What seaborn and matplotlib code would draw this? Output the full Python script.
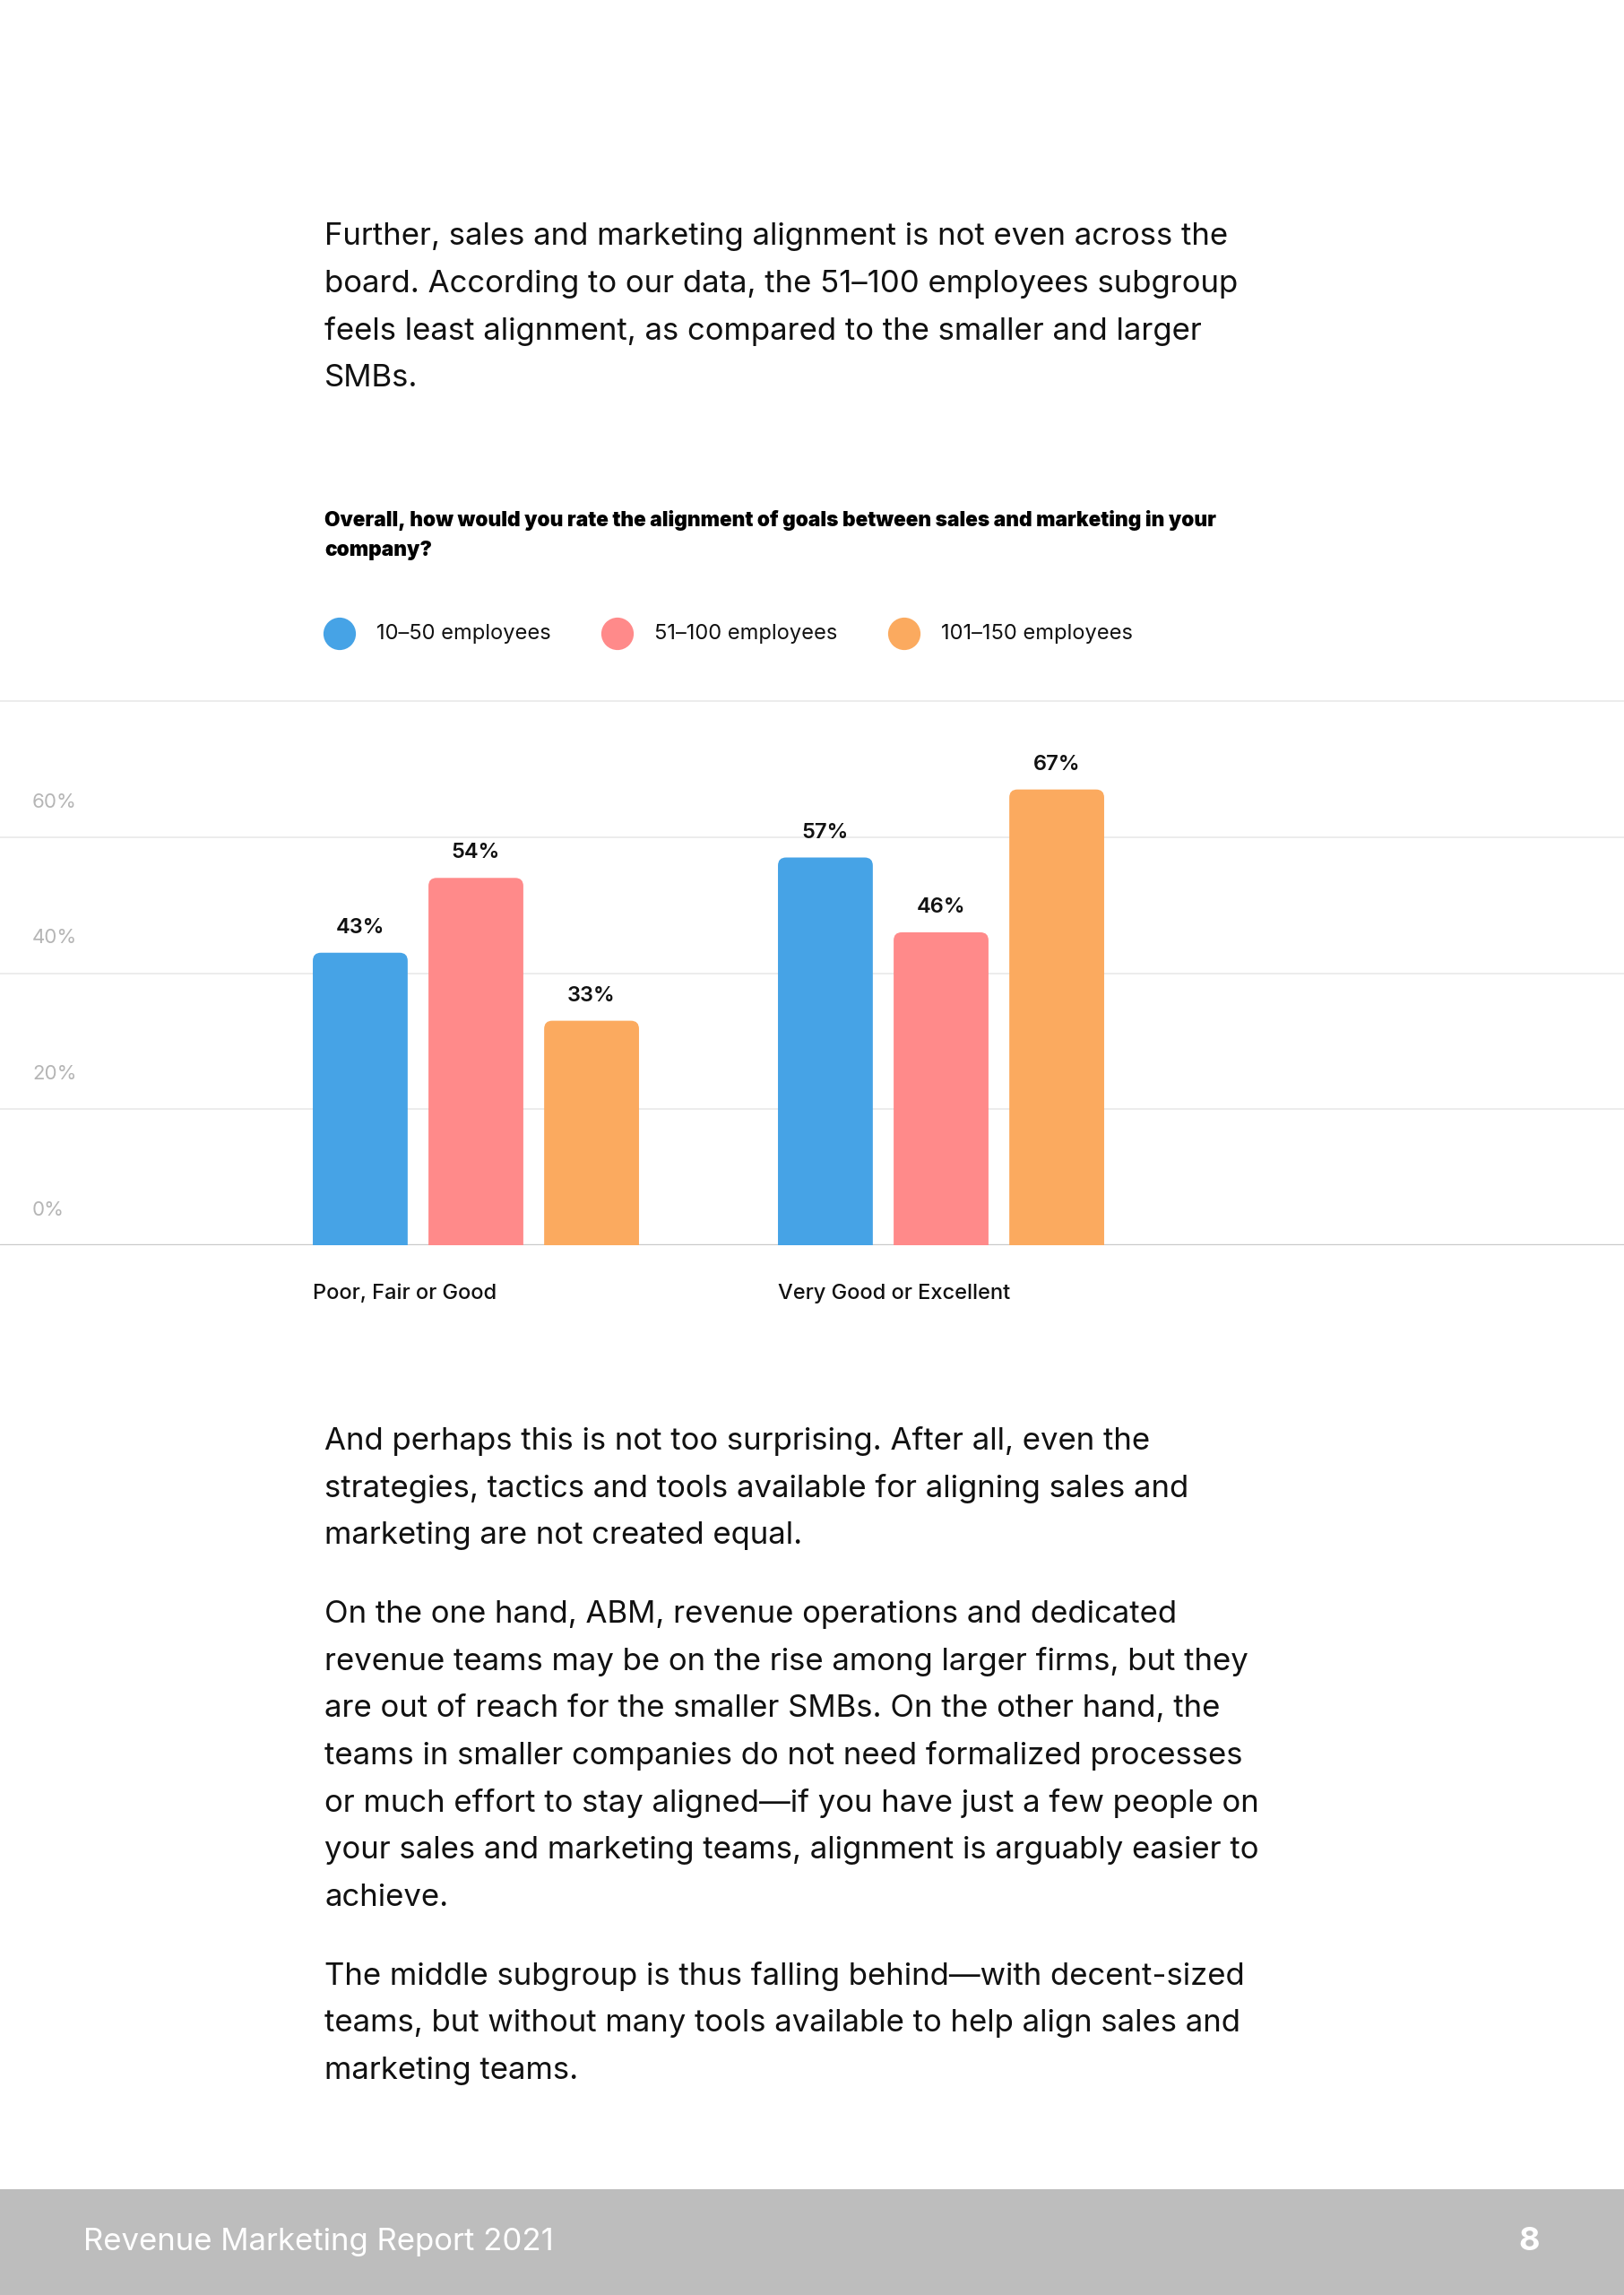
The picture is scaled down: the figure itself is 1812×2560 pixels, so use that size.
import pandas as pd
import seaborn as sns
import matplotlib.pyplot as plt
import matplotlib.transforms as mtrans
from matplotlib.patches import FancyBboxPatch, Rectangle

# %%
ratings = ["Poor, Fair or Good", "Very Good or Excellent"]
company_sizes = ["10–50 employees", "51–100 employees", "101–150 employees"]
share_10_50 = [43, 57]
share_51_100 = [54, 46]
share_101_150 = [33, 67]
yticks = [0, 20, 40, 60, 80]
ytick_labels = ["0%", "20%", "40%", "60%", ""]
colors = ["#46a3e6", "#ff8a8a", "#fbaa5f"]

title = ["Overall, how would you rate the alignment of goals between sales and marketing in your",
         "company?"]
intro = ["Further, sales and marketing alignment is not even across the",
         "board. According to our data, the 51–100 employees subgroup",
         "feels least alignment, as compared to the smaller and larger",
         "SMBs."]
outro = [
    ["And perhaps this is not too surprising. After all, even the",
     "strategies, tactics and tools available for aligning sales and",
     "marketing are not created equal."],
    ["On the one hand, ABM, revenue operations and dedicated",
     "revenue teams may be on the rise among larger firms, but they",
     "are out of reach for the smaller SMBs. On the other hand, the",
     "teams in smaller companies do not need formalized processes",
     "or much effort to stay aligned—if you have just a few people on",
     "your sales and marketing teams, alignment is arguably easier to",
     "achieve."],
    ["The middle subgroup is thus falling behind—with decent-sized",
     "teams, but without many tools available to help align sales and",
     "marketing teams."],
]
footer = "Revenue Marketing Report 2021"
page_no = "8"

# %%
df = pd.DataFrame({
    "rating": ratings * 3,
    "size": [s for s in company_sizes for _ in ratings],
    "share": share_10_50 + share_51_100 + share_101_150,
})

sns.set_theme(style="white")
plt.rcParams["font.family"] = ["Inter", "DejaVu Sans"]

W, H = 1812, 2560
fig = plt.figure(figsize=(W / 100, H / 100), dpi=100)
fig.patch.set_facecolor("white")

# chart area: 0% at y=1389 px, 80% at y=782 px
base_px, top_px = 1389, 782
px_per_pct = (base_px - top_px) / 80
ymax = 82
ax_top = base_px - ymax * px_per_pct
ax = fig.add_axes([0, (H - base_px) / H, 1, (base_px - ax_top) / H])
ax.set_facecolor("none")

sns.barplot(data=df, x="rating", y="share", hue="size", hue_order=company_sizes,
            palette=colors, width=0.746, gap=0.18, saturation=1, legend=False, ax=ax)

# group 1 centre at 531 px, group 2 at 1050 px
unit = 1050 - 531
ax.set_xlim(-531 / unit, (W - 531) / unit)
ax.set_ylim(0, ymax)
ax.set_yticks(yticks)
ax.set_yticklabels([])
ax.set_xticks([])
ax.tick_params(length=0)
ax.set_xlabel("")
ax.set_ylabel("")
sns.despine(ax=ax, left=True, bottom=True)
ax.grid(axis="y", color="#ebebeb", linewidth=1.3)
ax.set_axisbelow(True)
ax.axhline(0, color="#c8c8c8", linewidth=2.4, zorder=1)

# rounded bar tops
aspect = unit / px_per_pct
bars = list(ax.patches)
lefts = {}
for p in bars:
    x, w, h = p.get_x(), p.get_width(), p.get_height()
    p.set_visible(False)
    r = 9 / unit
    fb = FancyBboxPatch((x, -5), w, h + 5, boxstyle=f"round,pad=0,rounding_size={r}",
                        mutation_aspect=aspect, facecolor=p.get_facecolor(),
                        edgecolor="none", zorder=2)
    ax.add_patch(fb)
    ax.annotate(f"{h:.0f}%", (x + w / 2, h), xytext=(0, 20), textcoords="offset points",
                ha="center", va="center", fontsize=17, fontweight="semibold", color="#111111")
    g = round(x + w / 2)
    lefts[g] = min(lefts.get(g, 9), x)

for i, lab in enumerate(ratings):
    ax.text(lefts[i], -(1443 - base_px) / px_per_pct, lab, ha="left", va="center",
            fontsize=17, fontweight="medium", color="#111111", clip_on=False)

trans = mtrans.blended_transform_factory(ax.transAxes, ax.transData)
for v, lab in zip(yticks, ytick_labels):
    ax.text(36 / W, v + 39 / px_per_pct, lab, transform=trans, ha="left", va="center",
            fontsize=16, color="#b5b5b5")

# %% page text
page = fig.add_axes([0, 0, 1, 1], zorder=5)
page.set_xlim(0, W)
page.set_ylim(H, 0)
page.axis("off")
page.patch.set_alpha(0)

for i, line in enumerate(intro):
    page.text(362, 264 + i * 52.6, line, fontsize=25, color="#111111", va="center")

for i, line in enumerate(title):
    page.text(362, 580 + i * 34, line, fontsize=16.3, fontweight="black", color="#000000", va="center")

legend_x = [379, 689, 1009]
for cx, lab, c in zip(legend_x, company_sizes, colors):
    page.scatter([cx], [707], s=680, color=c, edgecolor="none")
    page.text(cx + 41, 707, lab, fontsize=17, color="#111111", va="center")

y = 1608
for para in outro:
    for line in para:
        page.text(362, y, line, fontsize=25, color="#111111", va="center")
        y += 52.6
    y += 88 - 52.6

page.add_patch(Rectangle((0, 2442), W, H - 2442, facecolor="#bdbdbd", edgecolor="none"))
page.text(93, 2501, footer, fontsize=25, color="white", va="center")
page.text(1706, 2501, page_no, fontsize=26, fontweight="bold", color="white", va="center", ha="center")

fig.savefig("out.png", dpi=100)
